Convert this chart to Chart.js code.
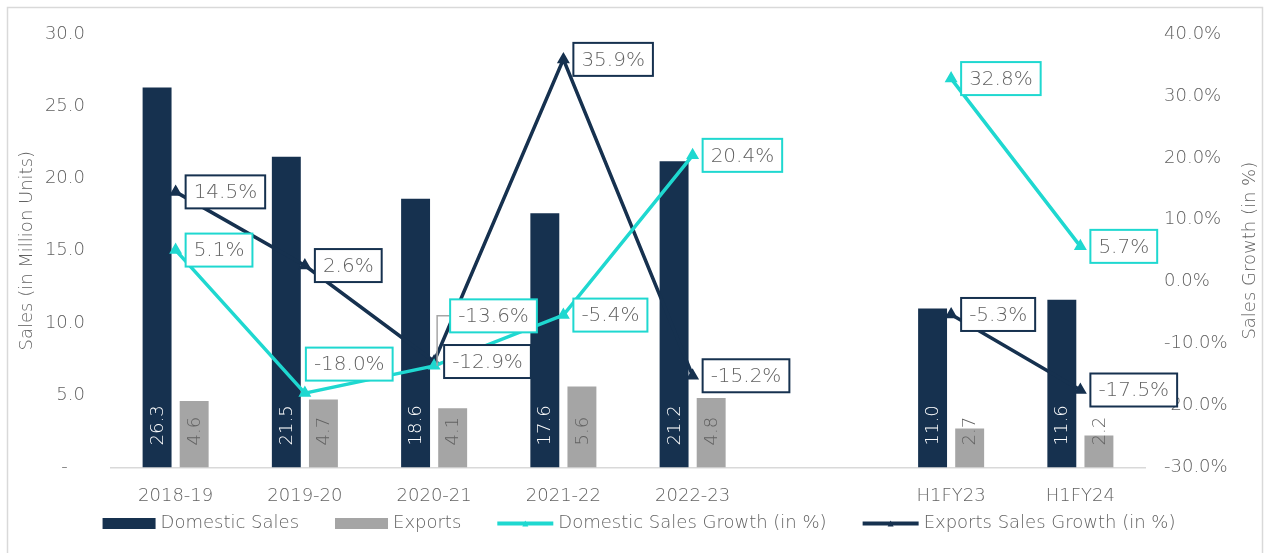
<!DOCTYPE html>
<html>
<head>
<meta charset="utf-8">
<script src="https://cdn.jsdelivr.net/npm/chart.js@4.4.0/dist/chart.umd.min.js"></script>
<style>
  html, body { margin: 0; padding: 0; background: #ffffff; }
  #wrap { position: absolute; left: 0; top: 0; width: 1265px; height: 553px; }
</style>
</head>
<body>
<div id="wrap"><canvas id="salesChart"></canvas></div>
<script>
'use strict';
// ---------------------- Data -----------------
const categories = ['2018-19', '2019-20', '2020-21', '2021-22', '2022-23', '', 'H1FY23', 'H1FY24'];
const domesticSales = [26.3, 21.5, 18.6, 17.6, 21.2, null, 11.0, 11.6];
const exportSales = [4.6, 4.7, 4.1, 5.6, 4.8, null, 2.7, 2.2];
const domesticGrowth = [5.1, -18.0, -13.6, -5.4, 20.4, null, 32.8, 5.7];
const exportGrowth = [14.5, 2.6, -12.9, 35.9, -15.2, null, -5.3, -17.5];
const salesTicks = [0, 5, 10, 15, 20, 25, 30];
const growthTicks = [-30, -20, -10, 0, 10, 20, 30, 40];

// ---------------------- Styles -----------------
const navy = '#16314f';
const grey = '#a5a5a5';
const cyan = '#1fd8d0';
const textGrey = '#626262';
const fontFamily = '"DejaVu Sans", sans-serif';
const fontWeight = '200';

// nudges for the growth labels that sit away from their point [dx, dy]
const labelNudge = { '2-1': [-9, -29], '2-2': [6, -50] };

Chart.defaults.font.family = fontFamily;
Chart.defaults.font.size = 18;
Chart.defaults.font.weight = fontWeight;
Chart.defaults.color = textGrey;

function font(size) {
  return fontWeight + ' ' + size + 'px ' + fontFamily;
}

// -------------------- Plugins -----------------
const frame = {
  id: 'frame',
  beforeDraw(chart) {
    const ctx = chart.ctx;
    ctx.save();
    ctx.strokeStyle = '#d9d9d9';
    ctx.lineWidth = 1.5;
    ctx.strokeRect(7.5, 7.5, 1255, 560);
    ctx.restore();
  }
};

const valueLabels = {
  id: 'valueLabels',
  afterDatasetsDraw(chart) {
    const ctx = chart.ctx;
    ctx.save();
    // bar labels, rotated, at the foot of each bar
    [0, 1].forEach(function (di) {
      const meta = chart.getDatasetMeta(di);
      const values = chart.data.datasets[di].data;
      meta.data.forEach(function (bar, i) {
        if (values[i] === null) {
          return;
        }
        ctx.save();
        ctx.translate(bar.x, bar.base - 22);
        ctx.rotate(-Math.PI / 2);
        ctx.font = font(18);
        ctx.fillStyle = di === 0 ? '#ffffff' : textGrey;
        ctx.textAlign = 'left';
        ctx.textBaseline = 'middle';
        ctx.fillText(values[i].toFixed(1), 0, 1);
        ctx.restore();
      });
    });
    // boxed growth labels
    [2, 3].forEach(function (di) {
      const ds = chart.data.datasets[di];
      const meta = chart.getDatasetMeta(di);
      meta.data.forEach(function (pt, i) {
        if (ds.data[i] === null) {
          return;
        }
        const text = ds.data[i].toFixed(1) + '%';
        ctx.font = font(20);
        const w = ctx.measureText(text).width + 16;
        const h = 33;
        const nudge = labelNudge[di + '-' + i] || [0, 0];
        const left = pt.x + 10 + nudge[0];
        const cy = pt.y + nudge[1];
        if (nudge[1] < -40) {
          ctx.strokeStyle = '#a6a6a6';
          ctx.lineWidth = 1.5;
          ctx.beginPath();
          ctx.moveTo(left, cy);
          ctx.lineTo(pt.x + 3, cy);
          ctx.lineTo(pt.x + 3, pt.y);
          ctx.stroke();
        }
        ctx.fillStyle = '#ffffff';
        ctx.fillRect(left, cy - h / 2, w, h);
        ctx.strokeStyle = ds.borderColor;
        ctx.lineWidth = 2;
        ctx.strokeRect(left, cy - h / 2, w, h);
        ctx.fillStyle = textGrey;
        ctx.textAlign = 'left';
        ctx.textBaseline = 'middle';
        ctx.fillText(text, left + 8, cy + 1);
      });
    });
    ctx.restore();
  },
  afterDraw(chart) {
    const ctx = chart.ctx;
    const scale = chart.scales.y1;
    // right axis title reads bottom to top
    ctx.save();
    ctx.translate(chart.width - 15, (scale.top + scale.bottom) / 2);
    ctx.rotate(-Math.PI / 2);
    ctx.font = font(18);
    ctx.fillStyle = textGrey;
    ctx.textAlign = 'center';
    ctx.textBaseline = 'middle';
    ctx.fillText('Sales Growth (in %)', 0, 0);
    ctx.restore();
    drawLegend(chart);
  }
};

// legend drawn by hand so the box size and gaps follow the original
function drawLegend(chart) {
  const ctx = chart.ctx;
  const y = 523.5;
  const gap = 36;
  ctx.save();
  ctx.font = font(18);
  const items = chart.data.datasets.map(function (ds) {
    const isLine = ds.type === 'line';
    const symbol = isLine ? 56 : 53;
    return { ds: ds, isLine: isLine, symbol: symbol, width: symbol + 5 + ctx.measureText(ds.label).width };
  });
  const total = items.reduce(function (s, it) { return s + it.width; }, 0) + gap * (items.length - 1);
  let x = 639 - total / 2;
  items.forEach(function (it) {
    if (it.isLine) {
      ctx.strokeStyle = it.ds.borderColor;
      ctx.lineWidth = 4;
      ctx.beginPath();
      ctx.moveTo(x, y);
      ctx.lineTo(x + it.symbol, y);
      ctx.stroke();
      ctx.fillStyle = it.ds.borderColor;
      ctx.beginPath();
      ctx.moveTo(x + it.symbol / 2 - 3, y + 3);
      ctx.lineTo(x + it.symbol / 2 + 3, y + 3);
      ctx.lineTo(x + it.symbol / 2, y - 3);
      ctx.fill();
    } else {
      ctx.fillStyle = it.ds.backgroundColor;
      ctx.fillRect(x, y - 5.5, it.symbol, 11);
    }
    ctx.fillStyle = textGrey;
    ctx.textAlign = 'left';
    ctx.textBaseline = 'middle';
    ctx.fillText(it.ds.label, x + it.symbol + 5, y);
    x += it.width + gap;
  });
  ctx.restore();
}

// -------------------- Chart -----------------
function renderChart() {
  const context = document.getElementById('salesChart').getContext('2d');
  return new Chart(context, {
    type: 'bar',
    data: {
      labels: categories,
      datasets: [{
        label: 'Domestic Sales',
        data: domesticSales,
        backgroundColor: navy,
        yAxisID: 'y',
        order: 2
      }, {
        label: 'Exports',
        data: exportSales,
        backgroundColor: grey,
        yAxisID: 'y',
        order: 2
      }, {
        type: 'line',
        label: 'Domestic Sales Growth (in %)',
        data: domesticGrowth,
        borderColor: cyan,
        backgroundColor: cyan,
        borderWidth: 3.5,
        pointStyle: 'triangle',
        pointRadius: 4,
        yAxisID: 'y1',
        order: 1
      }, {
        type: 'line',
        label: 'Exports Sales Growth (in %)',
        data: exportGrowth,
        borderColor: navy,
        backgroundColor: navy,
        borderWidth: 3.5,
        pointStyle: 'triangle',
        pointRadius: 4,
        yAxisID: 'y1',
        order: 1
      }]
    },
    options: {
      responsive: true,
      maintainAspectRatio: false,
      animation: false,
      layout: { padding: { left: 17, right: 0, top: 34, bottom: 36 } },
      datasets: {
        bar: { categoryPercentage: 0.574, barPercentage: 0.78 }
      },
      plugins: {
        legend: { display: false },
        tooltip: { enabled: false }
      },
      scales: {
        x: {
          grid: { display: false },
          border: { display: true, color: '#d9d9d9', width: 1.5 },
          ticks: { color: textGrey, padding: 10 }
        },
        y: {
          position: 'left',
          min: 0,
          max: 30,
          afterBuildTicks(scale) {
            scale.ticks = salesTicks.map(function (v) { return { value: v }; });
          },
          afterFit(scale) {
            scale.width = 94;
          },
          grid: { display: false },
          border: { display: false },
          ticks: {
            color: textGrey,
            padding: 18,
            callback: function (v) { return v === 0 ? '-   ' : v.toFixed(1); }
          },
          title: { display: true, text: 'Sales (in Million Units)', color: textGrey, padding: { top: 0, bottom: 0 } }
        },
        y1: {
          position: 'right',
          min: -30,
          max: 40,
          afterBuildTicks(scale) {
            scale.ticks = growthTicks.map(function (v) { return { value: v }; });
          },
          afterFit(scale) {
            scale.width = 120;
          },
          grid: { display: false },
          border: { display: false },
          ticks: {
            color: textGrey,
            padding: 11,
            callback: function (v) { return v.toFixed(1) + '%'; }
          }
        }
      }
    },
    plugins: [frame, valueLabels]
  });
}

renderChart();
</script>
</body>
</html>
